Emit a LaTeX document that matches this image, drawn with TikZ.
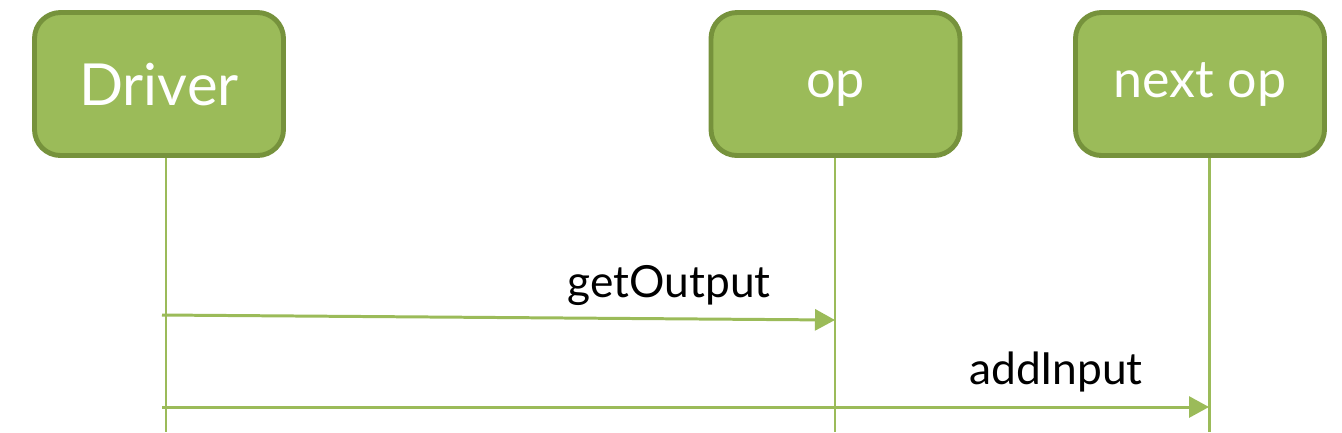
\documentclass[tikz,border=0pt]{standalone}
\usepackage{fontspec}
\setmainfont{Lato}
\usepackage{xcolor}
\usetikzlibrary{positioning,arrows.meta}

\definecolor{boxgreen}{HTML}{9BBB59}
\definecolor{edgegreen}{HTML}{76923C}

\begin{document}
\begin{tikzpicture}[
    x=1mm, y=-1mm,
    actor/.style={rectangle, rounded corners=2.6mm, draw=edgegreen, line width=1.4pt, fill=boxgreen, minimum width=24.9mm, minimum height=14.3mm, text=white, text depth=0pt},
    bigname/.style={font=\fontsize{16.5}{20}\selectfont, text height=4.3mm},
    smallname/.style={font=\fontsize{14.8}{18}\selectfont, text height=2.6mm},
    lifeline/.style={draw=boxgreen, line width=0.85pt},
    arrow/.style={draw=boxgreen, line width=0.85pt, -{Triangle[length=2mm, width=2.1mm]}},
    msg/.style={font=\fontsize{12.6}{15}\selectfont}
]
    \useasboundingbox (0,0) rectangle (134.2,43.2);

    % Nodes
    \node[actor, bigname] (driver) at (15.9,8.4) {Driver};
    \node[actor, smallname] (op) at (83.55,8.4) {op};
    \node[actor, smallname] (nextop) at (120.0,8.4) {next op};

    % Lifelines
    \coordinate (driverTop) at (16.6,15.8);
    \coordinate (driverEnd) at (16.6,43.2);
    \coordinate (opTop) at (83.5,15.8);
    \coordinate (opEnd) at (83.5,43.2);
    \coordinate (nextTop) at (120.9,15.8);
    \coordinate (nextEnd) at (120.9,43.2);
    \draw[lifeline] (driverTop) -- (driverEnd);
    \draw[lifeline] (opTop) -- (opEnd);
    \draw[lifeline] (nextTop) -- (nextEnd);

    % Arrows
    \coordinate (getFrom) at (16.2,31.5);
    \coordinate (getTo) at (83.5,32.0);
    \coordinate (addFrom) at (16.2,40.7);
    \coordinate (addTo) at (120.9,40.7);
    \draw[arrow] (getFrom) -- (getTo);
    \draw[arrow] (addFrom) -- (addTo);

    % Labels
    \node[msg] (getlabel) at (66.9,28.5) {getOutput};
    \node[msg] (addlabel) at (105.6,37.2) {addInput};
\end{tikzpicture}
\end{document}
